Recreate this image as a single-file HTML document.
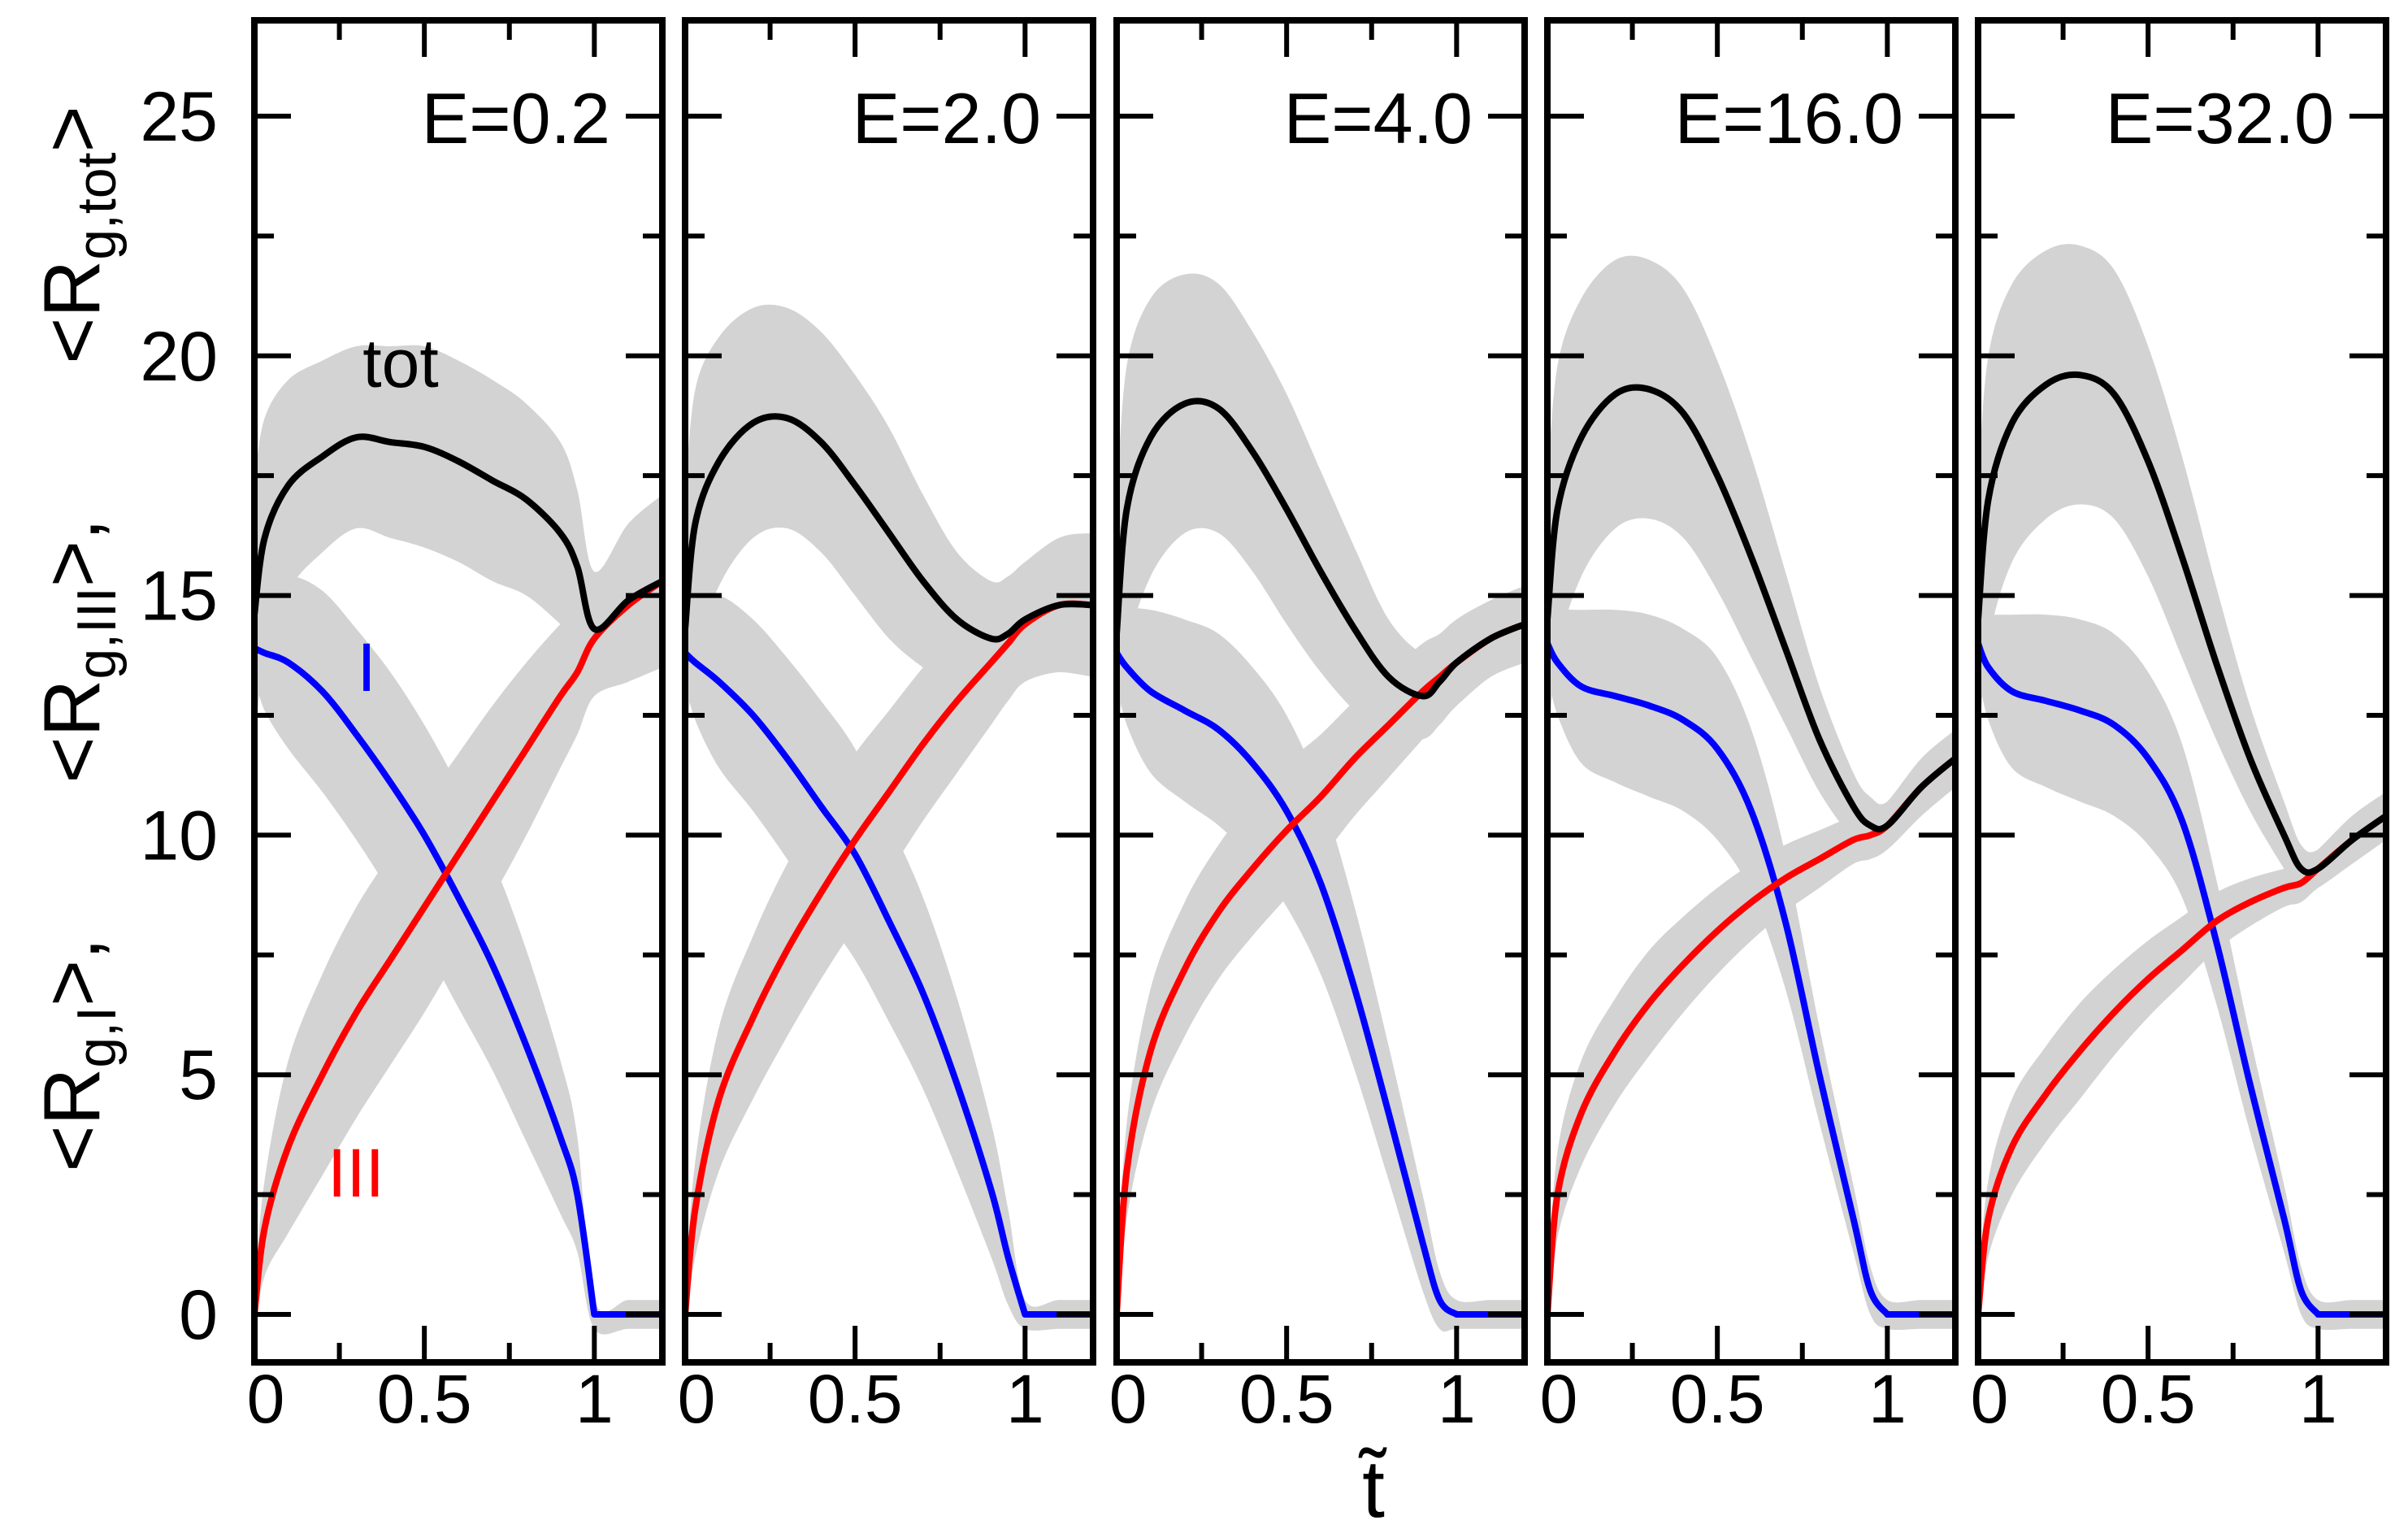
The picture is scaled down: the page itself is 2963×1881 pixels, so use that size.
<!DOCTYPE html>
<html><head><meta charset="utf-8"><style>
html,body{margin:0;padding:0;background:#fff;}
svg{display:block;font-family:"Liberation Sans",sans-serif;}
</style></head><body>
<svg id="chart" width="2963" height="1881" viewBox="0 0 2963 1881" xmlns="http://www.w3.org/2000/svg">
<g id="plots"></g>
<text transform="translate(122,786) rotate(-90)" text-anchor="middle" font-size="98">&lt;R<tspan font-size="68" dy="20">g,I</tspan><tspan dy="-20">&gt;,</tspan><tspan dx="190">&lt;R</tspan><tspan font-size="68" dy="20">g,III</tspan><tspan dy="-20">&gt;,</tspan><tspan dx="190">&lt;R</tspan><tspan font-size="68" dy="20">g,tot</tspan><tspan dy="-20">&gt;</tspan></text>
<text x="1690" y="1866" text-anchor="middle" font-size="100">t̃</text>
</svg>
<script>
const T = [0,0.03,0.1,0.2,0.3,0.4,0.5,0.6,0.7,0.8,0.9,0.95,1.0,1.1,1.2];
const panelLabels = ["E=0.2","E=2.0","E=4.0","E=16.0","E=32.0"];
const blueI = [
 [13.9,13.8,13.6,13.0,12.1,11.1,10.0,8.7,7.3,5.6,3.7,2.5,0,0,0],
 [13.8,13.6,13.2,12.5,11.6,10.6,9.6,8.2,6.7,4.8,2.6,1.2,0,0,0],
 [13.8,13.5,13.0,12.6,12.2,11.5,10.5,9.0,6.8,4.2,1.5,0.3,0,0,0],
 [14.0,13.6,13.1,12.9,12.7,12.4,11.8,10.5,8.2,5.0,2.0,0.5,0,0,0],
 [14.0,13.5,13.0,12.8,12.6,12.3,11.6,10.3,7.8,4.8,2.0,0.5,0,0,0]
];
const redIII = [
 [0,1.8,3.5,5.0,6.3,7.4,8.5,9.6,10.7,11.8,12.9,13.4,14.1,14.8,15.3],
 [0,2.2,4.5,6.2,7.6,8.8,9.9,10.9,11.9,12.8,13.6,14.0,14.4,14.8,14.8],
 [0,3.0,5.5,7.2,8.4,9.3,10.1,10.8,11.6,12.3,13.0,13.3,13.6,14.1,14.4],
 [0,2.5,4.2,5.5,6.5,7.3,8.0,8.6,9.1,9.5,9.9,10.0,10.2,11.0,11.6],
 [0,2.0,3.5,4.6,5.5,6.3,7.0,7.6,8.2,8.6,8.9,9.0,9.3,9.9,10.4]
];
const totV = [
 [14.6,16.2,17.3,17.9,18.3,18.2,18.1,17.8,17.4,17.0,16.3,15.6,14.3,14.9,15.3],
 [14.3,16.5,17.8,18.6,18.7,18.2,17.3,16.3,15.3,14.5,14.1,14.2,14.5,14.8,14.8],
 [14.2,16.8,18.3,19.0,18.9,18.0,16.8,15.5,14.3,13.3,12.9,13.2,13.6,14.1,14.4],
 [14.5,16.8,18.3,19.2,19.3,18.8,17.5,15.8,13.9,12.0,10.6,10.2,10.2,11.0,11.6],
 [14.5,17.0,18.6,19.4,19.6,19.2,17.8,15.8,13.6,11.6,10.0,9.3,9.3,9.9,10.4]
];
const sdBlue = [
 [0.6,1.2,1.8,2.1,2.2,2.3,2.3,2.3,2.2,2.0,1.6,1.2,0.3,0.3,0.3],
 [0.6,1.2,1.8,2.0,2.1,2.2,2.2,2.1,2.0,1.8,1.4,1.0,0.3,0.3,0.3],
 [0.6,1.2,1.7,1.9,2.0,2.0,2.0,1.9,1.7,1.4,1.0,0.6,0.3,0.3,0.3],
 [0.6,1.1,1.6,1.8,1.9,1.9,1.9,1.7,1.4,1.0,0.7,0.5,0.3,0.3,0.3],
 [0.6,1.1,1.6,1.8,1.9,1.9,1.8,1.6,1.3,1.0,0.7,0.5,0.3,0.3,0.3]
];
const sdRed = [
 [0.5,1.0,1.8,2.1,2.2,2.2,2.2,2.1,2.0,1.8,1.5,1.3,1.2,1.6,1.8],
 [0.5,1.0,1.5,1.7,1.8,1.8,1.8,1.7,1.6,1.5,1.3,1.2,1.2,1.4,1.5],
 [0.5,1.0,1.3,1.4,1.4,1.4,1.4,1.3,1.2,1.1,1.0,0.9,0.9,0.8,0.8],
 [0.5,0.9,1.1,1.1,1.1,1.0,0.9,0.8,0.7,0.6,0.5,0.5,0.5,0.6,0.6],
 [0.5,0.8,1.0,1.0,1.0,0.9,0.8,0.7,0.6,0.5,0.4,0.4,0.4,0.5,0.5]
];
const sdTot = [
 [2.8,2.5,2.2,2.0,1.9,2.0,2.1,2.1,2.1,2.0,1.9,1.6,1.2,1.6,1.8],
 [2.8,2.8,2.6,2.4,2.3,2.3,2.3,2.2,1.8,1.4,1.2,1.2,1.2,1.4,1.5],
 [2.8,3.0,2.9,2.7,2.6,2.5,2.4,2.1,1.7,1.2,0.9,0.9,0.9,0.8,0.8],
 [2.8,3.0,2.9,2.8,2.7,2.6,2.4,2.1,1.6,1.1,0.7,0.6,0.5,0.6,0.6],
 [2.8,3.0,2.9,2.8,2.7,2.6,2.4,2.1,1.6,1.1,0.7,0.5,0.4,0.5,0.5]
];
const yTicks = [0,5,10,15,20,25];
const xTickLabels = ["0","0.5","1"];

const NS="http://www.w3.org/2000/svg";
const PL=[313,843,1374,1904,2434], PW=502, PT=25, PB=1676;
const yMin=-1.0, yMax=27.0, xMax=1.2;
function mk(tag,attrs,parent){const e=document.createElementNS(NS,tag);for(const k in attrs)e.setAttribute(k,attrs[k]);parent.appendChild(e);return e;}
function sx(p,t){return PL[p]+t/xMax*PW;}
function sy(v){return PB-(v-yMin)/(yMax-yMin)*(PB-PT);}
function smooth(pts){
  let d="M"+pts[0][0].toFixed(1)+","+pts[0][1].toFixed(1);
  for(let i=0;i<pts.length-1;i++){
    const p0=pts[Math.max(i-1,0)],p1=pts[i],p2=pts[i+1],p3=pts[Math.min(i+2,pts.length-1)];
    const c1=[p1[0]+(p2[0]-p0[0])/6,p1[1]+(p2[1]-p0[1])/6];
    const c2=[p2[0]-(p3[0]-p1[0])/6,p2[1]-(p3[1]-p1[1])/6];
    d+=" C"+c1[0].toFixed(1)+","+c1[1].toFixed(1)+" "+c2[0].toFixed(1)+","+c2[1].toFixed(1)+" "+p2[0].toFixed(1)+","+p2[1].toFixed(1);
  }
  return d;
}
const root=document.getElementById("plots");
for(let p=0;p<5;p++){
  const g=mk("g",{},root);
  
  
  const cid="clip"+p;
  const cp=mk("clipPath",{id:cid},g);
  mk("rect",{x:PL[p]-40,y:PT,width:PW+80,height:PB-PT},cp);
  const data=g.appendChild(document.createElementNS(NS,"g"));
  data.setAttribute("clip-path","url(#"+cid+")");
  const series=[[blueI[p],sdBlue[p],"#0000ff","blue-series"],[redIII[p],sdRed[p],"#ff0000","red-series"],[totV[p],sdTot[p],"#000000","tot-series"]];
  for(const s of series){
    const up=T.map((t,i)=>[sx(p,t),sy(s[0][i]+s[1][i])]);
    const lo=T.map((t,i)=>[sx(p,t),sy(Math.max(s[0][i]-s[1][i],-0.4))]).reverse();
    const d=smooth(up)+" L"+lo[0][0]+","+lo[0][1]+smooth(lo).replace(/^M[^ ]+/,"")+" Z";
    const band=mk("path",{d:d,fill:"#d3d3d3",stroke:"none"},data);
    
    
  }
  for(const s of series){
    let pts=T.map((t,i)=>[sx(p,t),sy(s[0][i])]);
    let d;
    if(s[2]==="#0000ff"){ d=smooth(pts.slice(0,13))+" L"+pts[14][0]+","+pts[14][1]; }
    else d=smooth(pts);
    const ln=mk("path",{d:d,fill:"none",stroke:s[2],"stroke-width":8,"stroke-linejoin":"round"},data);
    
    
  }
  const fr=mk("rect",{x:PL[p],y:PT,width:PW,height:PB-PT,fill:"none",stroke:"#000","stroke-width":8},g);
  
  
  for(let v=0;v<=25;v+=2.5){
    const L=(v%5===0)?45:24, y=sy(v);
    mk("line",{x1:PL[p],x2:PL[p]+L,y1:y,y2:y,stroke:"#000","stroke-width":6},g);
    mk("line",{x1:PL[p]+PW-L,x2:PL[p]+PW,y1:y,y2:y,stroke:"#000","stroke-width":6},g);
  }
  for(let k=0;k<=4;k++){
    const t=k*0.25, L=(k%2===0)?45:24, x=sx(p,t);
    mk("line",{x1:x,x2:x,y1:PB,y2:PB-L,stroke:"#000","stroke-width":6},g);
    mk("line",{x1:x,x2:x,y1:PT,y2:PT+L,stroke:"#000","stroke-width":6},g);
  }
  xTickLabels.forEach(function(lab){
    const tx=mk("text",{x:sx(p,parseFloat(lab))+(lab==="0"?14:0),y:1750,"text-anchor":"middle","font-size":84},g);
    tx.textContent=lab;
    
    
  });
  const el=mk("text",{x:PL[p]+PW-64,y:176,"text-anchor":"end","font-size":88},g);
  el.textContent=panelLabels[p];
  
  
}
const svg=document.getElementById("chart");
yTicks.forEach(function(v){
  const tx=mk("text",{x:268,y:sy(v)+30,"text-anchor":"end","font-size":86},svg);
  tx.textContent=String(v);
  
  
});
const a=mk("text",{x:493,y:476,"text-anchor":"middle","font-size":84,fill:"#000"},svg);
a.textContent="tot";


const b=mk("text",{x:451,y:850,"text-anchor":"middle","font-size":84,fill:"#0000ff"},svg);
b.textContent="I";


const c=mk("text",{x:438,y:1472,"text-anchor":"middle","font-size":84,fill:"#ff0000"},svg);
c.textContent="III";


</script>
</body></html>
